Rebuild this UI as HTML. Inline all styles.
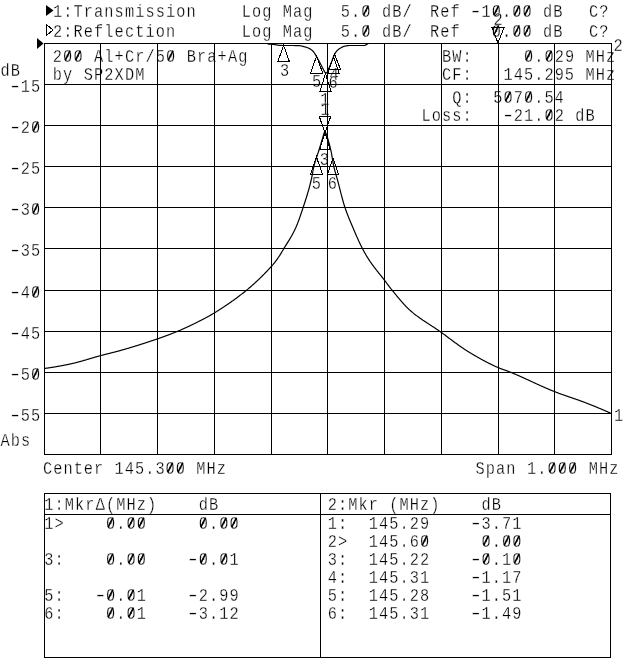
<!DOCTYPE html>
<html><head><meta charset="utf-8"><title>8753 screen</title>
<style>
html,body{margin:0;padding:0;background:#fff;width:640px;height:659px;overflow:hidden}
svg{display:block}
text{font-family:"Liberation Mono","DejaVu Sans Mono",monospace;font-size:18.0px;fill:#000;stroke:#fff;stroke-width:0.3px}
line{stroke:#000;stroke-width:1;shape-rendering:crispEdges}
.f{fill:#000;stroke:none}
.o{fill:none;stroke:#000;stroke-width:1;shape-rendering:crispEdges}
.tr{fill:none;stroke:#000;stroke-width:1.2;stroke-linejoin:round}
.tr2{fill:none;stroke:#000;stroke-width:1.2;stroke-linejoin:round}
.sl{stroke:#000;stroke-width:1.6;shape-rendering:auto}
</style></head><body>
<svg width="640" height="659" viewBox="0 0 640 659">
<rect width="640" height="659" fill="#fff"/>
<text transform="translate(53.01,17) scale(0.85,1)" letter-spacing="1.29">1:Transmission</text>
<text transform="translate(241.71,17) scale(0.85,1)" letter-spacing="1.29">Log</text>
<text transform="translate(282.83,17) scale(0.85,1)" letter-spacing="1.29">Mag</text>
<text transform="translate(340.81,17) scale(0.85,1)" letter-spacing="1.29">5.0</text>
<text transform="translate(381.93,17) scale(0.85,1)" letter-spacing="1.29">dB/</text>
<text transform="translate(588.91,17) scale(0.85,1)" letter-spacing="1.29">C?</text>
<text transform="translate(53.01,36.8) scale(0.85,1)" letter-spacing="1.29">2:Reflection</text>
<text transform="translate(241.71,36.8) scale(0.85,1)" letter-spacing="1.29">Log</text>
<text transform="translate(282.83,36.8) scale(0.85,1)" letter-spacing="1.29">Mag</text>
<text transform="translate(340.81,36.8) scale(0.85,1)" letter-spacing="1.29">5.0</text>
<text transform="translate(381.93,36.8) scale(0.85,1)" letter-spacing="1.29">dB/</text>
<text transform="translate(588.91,36.8) scale(0.85,1)" letter-spacing="1.29">C?</text>
<text transform="translate(430.01,17) scale(0.85,1)" letter-spacing="1.29">Ref</text>
<text transform="translate(475.72,17) scale(1.317,1)" text-anchor="middle">-</text>
<text transform="translate(481.41,17) scale(0.85,1)" letter-spacing="1.29">10.00</text>
<text transform="translate(543.09,17) scale(0.85,1)" letter-spacing="1.29">dB</text>
<text transform="translate(430.01,36.8) scale(0.85,1)" letter-spacing="1.29">Ref</text>
<text transform="translate(491.69,36.8) scale(0.85,1)" letter-spacing="1.29">0.00</text>
<text transform="translate(543.09,36.8) scale(0.85,1)" letter-spacing="1.29">dB</text>
<text transform="translate(52.81,62) scale(0.85,1)" letter-spacing="1.32">200</text>
<text transform="translate(94.01,62) scale(0.85,1)" letter-spacing="1.32">Al+Cr/50</text>
<text transform="translate(186.71,62) scale(0.85,1)" letter-spacing="1.32">Bra+Ag</text>
<text transform="translate(52.81,80) scale(0.85,1)" letter-spacing="1.32">by</text>
<text transform="translate(83.71,80) scale(0.85,1)" letter-spacing="1.32">SP2XDM</text>
<text transform="translate(441.91,62) scale(0.85,1)" letter-spacing="1.26">BW:</text>
<text transform="translate(523.91,62) scale(0.85,1)" letter-spacing="1.26">0.029</text>
<text transform="translate(585.41,62) scale(0.85,1)" letter-spacing="1.26">MHz</text>
<text transform="translate(441.91,80) scale(0.85,1)" letter-spacing="1.26">CF:</text>
<text transform="translate(503.41,80) scale(0.85,1)" letter-spacing="1.26">145.295</text>
<text transform="translate(585.41,80) scale(0.85,1)" letter-spacing="1.26">MHz</text>
<text transform="translate(452.16,103) scale(0.85,1)" letter-spacing="1.26">Q:</text>
<text transform="translate(493.16,103) scale(0.85,1)" letter-spacing="1.26">5070.54</text>
<text transform="translate(421.41,121) scale(0.85,1)" letter-spacing="1.26">Loss:</text>
<text transform="translate(508.00,121) scale(1.317,1)" text-anchor="middle">-</text>
<text transform="translate(513.66,121) scale(0.85,1)" letter-spacing="1.26">21.02</text>
<text transform="translate(575.16,121) scale(0.85,1)" letter-spacing="1.26">dB</text>
<text transform="translate(15.10,92) scale(1.317,1)" text-anchor="middle">-</text>
<text transform="translate(20.76,92) scale(0.85,1)" letter-spacing="1.26">15</text>
<text transform="translate(15.10,133) scale(1.317,1)" text-anchor="middle">-</text>
<text transform="translate(20.76,133) scale(0.85,1)" letter-spacing="1.26">20</text>
<text transform="translate(15.10,174) scale(1.317,1)" text-anchor="middle">-</text>
<text transform="translate(20.76,174) scale(0.85,1)" letter-spacing="1.26">25</text>
<text transform="translate(15.10,215) scale(1.317,1)" text-anchor="middle">-</text>
<text transform="translate(20.76,215) scale(0.85,1)" letter-spacing="1.26">30</text>
<text transform="translate(15.10,256) scale(1.317,1)" text-anchor="middle">-</text>
<text transform="translate(20.76,256) scale(0.85,1)" letter-spacing="1.26">35</text>
<text transform="translate(15.10,298) scale(1.317,1)" text-anchor="middle">-</text>
<text transform="translate(20.76,298) scale(0.85,1)" letter-spacing="1.26">40</text>
<text transform="translate(15.10,339) scale(1.317,1)" text-anchor="middle">-</text>
<text transform="translate(20.76,339) scale(0.85,1)" letter-spacing="1.26">45</text>
<text transform="translate(15.10,380) scale(1.317,1)" text-anchor="middle">-</text>
<text transform="translate(20.76,380) scale(0.85,1)" letter-spacing="1.26">50</text>
<text transform="translate(15.10,421) scale(1.317,1)" text-anchor="middle">-</text>
<text transform="translate(20.76,421) scale(0.85,1)" letter-spacing="1.26">55</text>
<text transform="translate(0.41,76) scale(0.85,1)" letter-spacing="1.26">dB</text>
<text transform="translate(0.41,446) scale(0.85,1)" letter-spacing="1.26">Abs</text>
<text transform="translate(43.01,474) scale(0.85,1)" letter-spacing="1.22">Center</text>
<text transform="translate(114.55,474) scale(0.85,1)" letter-spacing="1.22">145.300</text>
<text transform="translate(196.31,474) scale(0.85,1)" letter-spacing="1.22">MHz</text>
<text transform="translate(475.41,474) scale(0.85,1)" letter-spacing="1.32">Span</text>
<text transform="translate(526.91,474) scale(0.85,1)" letter-spacing="1.32">1.000</text>
<text transform="translate(588.71,474) scale(0.85,1)" letter-spacing="1.32">MHz</text>
<text transform="translate(44.16,510) scale(0.85,1)" letter-spacing="1.32">1:MkrΔ(MHz)</text>
<text transform="translate(198.66,510) scale(0.85,1)" letter-spacing="1.32">dB</text>
<text transform="translate(44.16,529) scale(0.85,1)" letter-spacing="1.32">1&gt;</text>
<text transform="translate(105.96,529) scale(0.85,1)" letter-spacing="1.32">0.00</text>
<text transform="translate(198.66,529) scale(0.85,1)" letter-spacing="1.32">0.00</text>
<text transform="translate(44.16,565) scale(0.85,1)" letter-spacing="1.32">3:</text>
<text transform="translate(105.96,565) scale(0.85,1)" letter-spacing="1.32">0.00</text>
<text transform="translate(192.95,565) scale(1.317,1)" text-anchor="middle">-</text>
<text transform="translate(198.66,565) scale(0.85,1)" letter-spacing="1.32">0.01</text>
<text transform="translate(44.16,601) scale(0.85,1)" letter-spacing="1.32">5:</text>
<text transform="translate(100.25,601) scale(1.317,1)" text-anchor="middle">-</text>
<text transform="translate(105.96,601) scale(0.85,1)" letter-spacing="1.32">0.01</text>
<text transform="translate(192.95,601) scale(1.317,1)" text-anchor="middle">-</text>
<text transform="translate(198.66,601) scale(0.85,1)" letter-spacing="1.32">2.99</text>
<text transform="translate(44.16,619) scale(0.85,1)" letter-spacing="1.32">6:</text>
<text transform="translate(105.96,619) scale(0.85,1)" letter-spacing="1.32">0.01</text>
<text transform="translate(192.95,619) scale(1.317,1)" text-anchor="middle">-</text>
<text transform="translate(198.66,619) scale(0.85,1)" letter-spacing="1.32">3.12</text>
<text transform="translate(327.81,510) scale(0.85,1)" letter-spacing="1.26">2:Mkr</text>
<text transform="translate(389.31,510) scale(0.85,1)" letter-spacing="1.26">(MHz)</text>
<text transform="translate(481.56,510) scale(0.85,1)" letter-spacing="1.26">dB</text>
<text transform="translate(327.81,529) scale(0.85,1)" letter-spacing="1.26">1:</text>
<text transform="translate(368.81,529) scale(0.85,1)" letter-spacing="1.26">145.29</text>
<text transform="translate(475.90,529) scale(1.317,1)" text-anchor="middle">-</text>
<text transform="translate(481.56,529) scale(0.85,1)" letter-spacing="1.26">3.71</text>
<text transform="translate(327.81,547) scale(0.85,1)" letter-spacing="1.26">2&gt;</text>
<text transform="translate(368.81,547) scale(0.85,1)" letter-spacing="1.26">145.60</text>
<text transform="translate(481.56,547) scale(0.85,1)" letter-spacing="1.26">0.00</text>
<text transform="translate(327.81,565) scale(0.85,1)" letter-spacing="1.26">3:</text>
<text transform="translate(368.81,565) scale(0.85,1)" letter-spacing="1.26">145.22</text>
<text transform="translate(475.90,565) scale(1.317,1)" text-anchor="middle">-</text>
<text transform="translate(481.56,565) scale(0.85,1)" letter-spacing="1.26">0.10</text>
<text transform="translate(327.81,583) scale(0.85,1)" letter-spacing="1.26">4:</text>
<text transform="translate(368.81,583) scale(0.85,1)" letter-spacing="1.26">145.31</text>
<text transform="translate(475.90,583) scale(1.317,1)" text-anchor="middle">-</text>
<text transform="translate(481.56,583) scale(0.85,1)" letter-spacing="1.26">1.17</text>
<text transform="translate(327.81,601) scale(0.85,1)" letter-spacing="1.26">5:</text>
<text transform="translate(368.81,601) scale(0.85,1)" letter-spacing="1.26">145.28</text>
<text transform="translate(475.90,601) scale(1.317,1)" text-anchor="middle">-</text>
<text transform="translate(481.56,601) scale(0.85,1)" letter-spacing="1.26">1.51</text>
<text transform="translate(327.81,619) scale(0.85,1)" letter-spacing="1.26">6:</text>
<text transform="translate(368.81,619) scale(0.85,1)" letter-spacing="1.26">145.31</text>
<text transform="translate(475.90,619) scale(1.317,1)" text-anchor="middle">-</text>
<text transform="translate(481.56,619) scale(0.85,1)" letter-spacing="1.26">1.49</text>
<text transform="translate(279.91,76) scale(0.85,1)" letter-spacing="0.96">3</text>
<text transform="translate(312.01,87) scale(0.85,1)" letter-spacing="0.96">5</text>
<text transform="translate(329.41,80) scale(0.85,1)" letter-spacing="0.96">4</text>
<text transform="translate(328.41,88) scale(0.85,1)" letter-spacing="0.96">6</text>
<text transform="translate(320.21,105) scale(0.85,1)" letter-spacing="0.96">1</text>
<text transform="translate(493.41,25) scale(0.85,1)" letter-spacing="0.96">2</text>
<text transform="translate(320.41,115) scale(0.85,1)" letter-spacing="0.96">1</text>
<text transform="translate(319.71,164.5) scale(0.85,1)" letter-spacing="0.96">3</text>
<text transform="translate(311.71,189) scale(0.85,1)" letter-spacing="0.96">5</text>
<text transform="translate(327.71,189) scale(0.85,1)" letter-spacing="0.96">6</text>
<text transform="translate(613.91,420.5) scale(0.85,1)" letter-spacing="0.96">1</text>
<text transform="translate(613.41,51) scale(0.85,1)" letter-spacing="0.96">2</text>
<line x1="44.5" y1="43" x2="44.5" y2="455"/>
<line x1="100.5" y1="43" x2="100.5" y2="455"/>
<line x1="157.5" y1="43" x2="157.5" y2="455"/>
<line x1="214.5" y1="43" x2="214.5" y2="455"/>
<line x1="271.5" y1="43" x2="271.5" y2="455"/>
<line x1="327.5" y1="43" x2="327.5" y2="455"/>
<line x1="384.5" y1="43" x2="384.5" y2="455"/>
<line x1="441.5" y1="43" x2="441.5" y2="455"/>
<line x1="498.5" y1="43" x2="498.5" y2="455"/>
<line x1="554.5" y1="43" x2="554.5" y2="455"/>
<line x1="611.5" y1="43" x2="611.5" y2="455"/>
<line x1="44" y1="43.5" x2="612" y2="43.5"/>
<line x1="44" y1="84.5" x2="612" y2="84.5"/>
<line x1="44" y1="125.5" x2="612" y2="125.5"/>
<line x1="44" y1="166.5" x2="612" y2="166.5"/>
<line x1="44" y1="207.5" x2="612" y2="207.5"/>
<line x1="44" y1="248.5" x2="612" y2="248.5"/>
<line x1="44" y1="290.5" x2="612" y2="290.5"/>
<line x1="44" y1="331.5" x2="612" y2="331.5"/>
<line x1="44" y1="372.5" x2="612" y2="372.5"/>
<line x1="44" y1="413.5" x2="612" y2="413.5"/>
<line x1="44" y1="454.5" x2="612" y2="454.5"/>
<line x1="44" y1="493.5" x2="611" y2="493.5"/>
<line x1="44" y1="514.5" x2="611" y2="514.5"/>
<line x1="44" y1="657.5" x2="611" y2="657.5"/>
<line x1="44.5" y1="493" x2="44.5" y2="658"/>
<line x1="610.5" y1="493" x2="610.5" y2="658"/>
<line x1="320.5" y1="493" x2="320.5" y2="658"/>
<line class="sl" x1="363.56" y1="15.20" x2="368.36" y2="5.66"/>
<line class="sl" x1="363.56" y1="35.00" x2="368.36" y2="25.46"/>
<line class="sl" x1="493.88" y1="15.20" x2="498.68" y2="5.66"/>
<line class="sl" x1="514.44" y1="15.20" x2="519.24" y2="5.66"/>
<line class="sl" x1="524.72" y1="15.20" x2="529.52" y2="5.66"/>
<line class="sl" x1="493.88" y1="35.00" x2="498.68" y2="25.46"/>
<line class="sl" x1="514.44" y1="35.00" x2="519.24" y2="25.46"/>
<line class="sl" x1="524.72" y1="35.00" x2="529.52" y2="25.46"/>
<polygon class="f" points="46,5 46,16 53.5,10.5"/>
<polygon class="o" points="46.5,24.5 46.5,35.5 53,30"/>
<polygon class="f" points="37,38 37,49 43.5,43.5"/>
<line class="sl" x1="65.30" y1="60.20" x2="70.10" y2="50.66"/>
<line class="sl" x1="75.60" y1="60.20" x2="80.40" y2="50.66"/>
<line class="sl" x1="168.30" y1="60.20" x2="173.10" y2="50.66"/>
<line class="sl" x1="526.10" y1="60.20" x2="530.90" y2="50.66"/>
<line class="sl" x1="546.60" y1="60.20" x2="551.40" y2="50.66"/>
<line class="sl" x1="505.60" y1="101.20" x2="510.40" y2="91.66"/>
<line class="sl" x1="526.10" y1="101.20" x2="530.90" y2="91.66"/>
<line class="sl" x1="546.60" y1="119.20" x2="551.40" y2="109.66"/>
<line class="sl" x1="33.20" y1="131.20" x2="38.00" y2="121.66"/>
<line class="sl" x1="33.20" y1="213.20" x2="38.00" y2="203.66"/>
<line class="sl" x1="33.20" y1="296.20" x2="38.00" y2="286.66"/>
<line class="sl" x1="33.20" y1="378.20" x2="38.00" y2="368.66"/>
<line class="sl" x1="167.84" y1="472.20" x2="172.64" y2="462.66"/>
<line class="sl" x1="178.06" y1="472.20" x2="182.86" y2="462.66"/>
<line class="sl" x1="549.70" y1="472.20" x2="554.50" y2="462.66"/>
<line class="sl" x1="560.00" y1="472.20" x2="564.80" y2="462.66"/>
<line class="sl" x1="570.30" y1="472.20" x2="575.10" y2="462.66"/>
<line class="sl" x1="108.15" y1="527.20" x2="112.95" y2="517.66"/>
<line class="sl" x1="128.75" y1="527.20" x2="133.55" y2="517.66"/>
<line class="sl" x1="139.05" y1="527.20" x2="143.85" y2="517.66"/>
<line class="sl" x1="200.85" y1="527.20" x2="205.65" y2="517.66"/>
<line class="sl" x1="221.45" y1="527.20" x2="226.25" y2="517.66"/>
<line class="sl" x1="231.75" y1="527.20" x2="236.55" y2="517.66"/>
<line class="sl" x1="108.15" y1="563.20" x2="112.95" y2="553.66"/>
<line class="sl" x1="128.75" y1="563.20" x2="133.55" y2="553.66"/>
<line class="sl" x1="139.05" y1="563.20" x2="143.85" y2="553.66"/>
<line class="sl" x1="200.85" y1="563.20" x2="205.65" y2="553.66"/>
<line class="sl" x1="221.45" y1="563.20" x2="226.25" y2="553.66"/>
<line class="sl" x1="108.15" y1="599.20" x2="112.95" y2="589.66"/>
<line class="sl" x1="128.75" y1="599.20" x2="133.55" y2="589.66"/>
<line class="sl" x1="108.15" y1="617.20" x2="112.95" y2="607.66"/>
<line class="sl" x1="128.75" y1="617.20" x2="133.55" y2="607.66"/>
<line class="sl" x1="422.25" y1="545.20" x2="427.05" y2="535.66"/>
<line class="sl" x1="483.75" y1="545.20" x2="488.55" y2="535.66"/>
<line class="sl" x1="504.25" y1="545.20" x2="509.05" y2="535.66"/>
<line class="sl" x1="514.50" y1="545.20" x2="519.30" y2="535.66"/>
<line class="sl" x1="483.75" y1="563.20" x2="488.55" y2="553.66"/>
<line class="sl" x1="514.50" y1="563.20" x2="519.30" y2="553.66"/>
<path class="tr" d="M44.00,368.50 L44.31,368.46 L44.62,368.42 L44.94,368.38 L45.25,368.34 L45.56,368.30 L45.87,368.26 L46.19,368.22 L46.50,368.18 L46.81,368.13 L47.12,368.09 L47.43,368.05 L47.75,368.00 L48.06,367.96 L48.37,367.91 L48.68,367.87 L49.00,367.82 L49.31,367.78 L49.62,367.73 L49.93,367.69 L50.24,367.64 L50.56,367.59 L50.87,367.54 L51.18,367.50 L51.49,367.45 L51.81,367.40 L52.12,367.35 L52.43,367.30 L52.74,367.25 L53.05,367.20 L53.37,367.15 L53.68,367.10 L53.99,367.05 L54.30,367.00 L54.62,366.95 L54.93,366.89 L55.24,366.84 L55.55,366.79 L55.86,366.73 L56.18,366.68 L56.49,366.63 L56.80,366.57 L57.11,366.52 L57.43,366.46 L57.74,366.41 L58.05,366.35 L58.36,366.30 L58.68,366.24 L58.99,366.18 L59.30,366.13 L59.61,366.07 L59.92,366.01 L60.24,365.96 L60.55,365.90 L60.86,365.84 L61.17,365.78 L61.49,365.72 L61.80,365.66 L62.11,365.60 L62.42,365.54 L62.73,365.48 L63.05,365.42 L63.36,365.36 L63.67,365.30 L63.98,365.24 L64.30,365.18 L64.61,365.12 L64.92,365.06 L65.23,364.99 L65.54,364.93 L65.86,364.87 L66.17,364.81 L66.48,364.74 L66.79,364.68 L67.11,364.62 L67.42,364.55 L67.73,364.49 L68.04,364.42 L68.35,364.36 L68.67,364.29 L68.98,364.23 L69.29,364.16 L69.60,364.10 L69.92,364.03 L70.23,363.97 L70.54,363.90 L70.85,363.83 L71.16,363.77 L71.48,363.70 L71.79,363.63 L72.10,363.56 L72.41,363.50 L72.73,363.42 L73.04,363.35 L73.35,363.28 L73.66,363.21 L73.97,363.13 L74.29,363.06 L74.60,362.98 L74.91,362.91 L75.22,362.83 L75.54,362.75 L75.85,362.68 L76.16,362.60 L76.47,362.52 L76.78,362.44 L77.10,362.36 L77.41,362.27 L77.72,362.19 L78.03,362.11 L78.35,362.03 L78.66,361.94 L78.97,361.86 L79.28,361.77 L79.59,361.69 L79.91,361.60 L80.22,361.52 L80.53,361.43 L80.84,361.34 L81.16,361.25 L81.47,361.17 L81.78,361.08 L82.09,360.99 L82.41,360.90 L82.72,360.81 L83.03,360.72 L83.34,360.63 L83.65,360.54 L83.97,360.45 L84.28,360.36 L84.59,360.26 L84.90,360.17 L85.22,360.08 L85.53,359.99 L85.84,359.90 L86.15,359.80 L86.46,359.71 L86.78,359.62 L87.09,359.52 L87.40,359.43 L87.71,359.34 L88.03,359.24 L88.34,359.15 L88.65,359.06 L88.96,358.96 L89.27,358.87 L89.59,358.78 L89.90,358.68 L90.21,358.59 L90.52,358.50 L90.84,358.40 L91.15,358.31 L91.46,358.22 L91.77,358.12 L92.08,358.03 L92.40,357.94 L92.71,357.84 L93.02,357.75 L93.33,357.66 L93.65,357.57 L93.96,357.48 L94.27,357.38 L94.58,357.29 L94.89,357.20 L95.21,357.11 L95.52,357.02 L95.83,356.93 L96.14,356.84 L96.46,356.75 L96.77,356.66 L97.08,356.57 L97.39,356.48 L97.70,356.39 L98.02,356.31 L98.33,356.22 L98.64,356.13 L98.95,356.05 L99.27,355.96 L99.58,355.88 L99.89,355.79 L100.20,355.71 L100.51,355.62 L100.83,355.54 L101.14,355.46 L101.45,355.37 L101.76,355.29 L102.08,355.21 L102.39,355.13 L102.70,355.05 L103.01,354.97 L103.32,354.89 L103.64,354.81 L103.95,354.73 L104.26,354.65 L104.57,354.57 L104.89,354.49 L105.20,354.41 L105.51,354.33 L105.82,354.25 L106.13,354.17 L106.45,354.10 L106.76,354.02 L107.07,353.94 L107.38,353.86 L107.70,353.78 L108.01,353.70 L108.32,353.63 L108.63,353.55 L108.95,353.47 L109.26,353.39 L109.57,353.32 L109.88,353.24 L110.19,353.16 L110.51,353.08 L110.82,353.00 L111.13,352.92 L111.44,352.85 L111.76,352.77 L112.07,352.69 L112.38,352.61 L112.69,352.53 L113.00,352.45 L113.32,352.37 L113.63,352.29 L113.94,352.21 L114.25,352.13 L114.57,352.05 L114.88,351.97 L115.19,351.89 L115.50,351.81 L115.81,351.73 L116.13,351.65 L116.44,351.57 L116.75,351.48 L117.06,351.40 L117.38,351.32 L117.69,351.23 L118.00,351.15 L118.31,351.07 L118.62,350.98 L118.94,350.89 L119.25,350.81 L119.56,350.72 L119.87,350.64 L120.19,350.55 L120.50,350.46 L120.81,350.37 L121.12,350.28 L121.43,350.20 L121.75,350.11 L122.06,350.02 L122.37,349.93 L122.68,349.84 L123.00,349.75 L123.31,349.66 L123.62,349.57 L123.93,349.48 L124.24,349.39 L124.56,349.30 L124.87,349.21 L125.18,349.12 L125.49,349.03 L125.81,348.94 L126.12,348.85 L126.43,348.76 L126.74,348.67 L127.05,348.58 L127.37,348.48 L127.68,348.39 L127.99,348.30 L128.30,348.21 L128.62,348.12 L128.93,348.02 L129.24,347.93 L129.55,347.84 L129.86,347.74 L130.18,347.65 L130.49,347.56 L130.80,347.46 L131.11,347.37 L131.43,347.27 L131.74,347.18 L132.05,347.09 L132.36,346.99 L132.67,346.90 L132.99,346.80 L133.30,346.71 L133.61,346.61 L133.92,346.52 L134.24,346.42 L134.55,346.32 L134.86,346.23 L135.17,346.13 L135.49,346.04 L135.80,345.94 L136.11,345.84 L136.42,345.75 L136.73,345.65 L137.05,345.55 L137.36,345.45 L137.67,345.36 L137.98,345.26 L138.30,345.16 L138.61,345.06 L138.92,344.96 L139.23,344.87 L139.54,344.77 L139.86,344.67 L140.17,344.57 L140.48,344.47 L140.79,344.37 L141.11,344.27 L141.42,344.17 L141.73,344.07 L142.04,343.97 L142.35,343.87 L142.67,343.77 L142.98,343.67 L143.29,343.57 L143.60,343.47 L143.92,343.37 L144.23,343.27 L144.54,343.17 L144.85,343.07 L145.16,342.97 L145.48,342.86 L145.79,342.76 L146.10,342.66 L146.41,342.56 L146.73,342.46 L147.04,342.35 L147.35,342.25 L147.66,342.15 L147.97,342.05 L148.29,341.94 L148.60,341.84 L148.91,341.74 L149.22,341.63 L149.54,341.53 L149.85,341.43 L150.16,341.32 L150.47,341.22 L150.78,341.11 L151.10,341.01 L151.41,340.90 L151.72,340.80 L152.03,340.69 L152.35,340.59 L152.66,340.48 L152.97,340.38 L153.28,340.27 L153.59,340.17 L153.91,340.06 L154.22,339.96 L154.53,339.85 L154.84,339.74 L155.16,339.64 L155.47,339.53 L155.78,339.43 L156.09,339.32 L156.40,339.21 L156.72,339.10 L157.03,339.00 L157.34,338.89 L157.65,338.78 L157.97,338.68 L158.28,338.57 L158.59,338.46 L158.90,338.35 L159.22,338.24 L159.53,338.13 L159.84,338.03 L160.15,337.92 L160.46,337.81 L160.78,337.70 L161.09,337.59 L161.40,337.48 L161.71,337.37 L162.03,337.26 L162.34,337.15 L162.65,337.04 L162.96,336.93 L163.27,336.81 L163.59,336.70 L163.90,336.59 L164.21,336.48 L164.52,336.37 L164.84,336.25 L165.15,336.14 L165.46,336.03 L165.77,335.91 L166.08,335.80 L166.40,335.68 L166.71,335.57 L167.02,335.45 L167.33,335.34 L167.65,335.22 L167.96,335.10 L168.27,334.99 L168.58,334.87 L168.89,334.75 L169.21,334.63 L169.52,334.52 L169.83,334.40 L170.14,334.28 L170.46,334.16 L170.77,334.04 L171.08,333.92 L171.39,333.80 L171.70,333.68 L172.02,333.55 L172.33,333.43 L172.64,333.31 L172.95,333.18 L173.27,333.06 L173.58,332.94 L173.89,332.81 L174.20,332.69 L174.51,332.56 L174.83,332.44 L175.14,332.31 L175.45,332.18 L175.76,332.05 L176.08,331.93 L176.39,331.80 L176.70,331.67 L177.01,331.54 L177.32,331.41 L177.64,331.28 L177.95,331.14 L178.26,331.01 L178.57,330.88 L178.89,330.75 L179.20,330.61 L179.51,330.48 L179.82,330.35 L180.13,330.21 L180.45,330.08 L180.76,329.94 L181.07,329.81 L181.38,329.67 L181.70,329.53 L182.01,329.40 L182.32,329.26 L182.63,329.12 L182.94,328.98 L183.26,328.84 L183.57,328.70 L183.88,328.56 L184.19,328.42 L184.51,328.28 L184.82,328.14 L185.13,328.00 L185.44,327.86 L185.76,327.71 L186.07,327.57 L186.38,327.43 L186.69,327.29 L187.00,327.14 L187.32,327.00 L187.63,326.85 L187.94,326.71 L188.25,326.56 L188.57,326.41 L188.88,326.27 L189.19,326.12 L189.50,325.97 L189.81,325.83 L190.13,325.68 L190.44,325.53 L190.75,325.38 L191.06,325.23 L191.38,325.08 L191.69,324.93 L192.00,324.78 L192.31,324.63 L192.62,324.48 L192.94,324.33 L193.25,324.18 L193.56,324.03 L193.87,323.87 L194.19,323.72 L194.50,323.57 L194.81,323.41 L195.12,323.26 L195.43,323.11 L195.75,322.95 L196.06,322.80 L196.37,322.64 L196.68,322.49 L197.00,322.33 L197.31,322.17 L197.62,322.02 L197.93,321.86 L198.24,321.70 L198.56,321.55 L198.87,321.39 L199.18,321.23 L199.49,321.07 L199.81,320.91 L200.12,320.75 L200.43,320.59 L200.74,320.43 L201.05,320.27 L201.37,320.11 L201.68,319.95 L201.99,319.79 L202.30,319.63 L202.62,319.47 L202.93,319.31 L203.24,319.15 L203.55,318.98 L203.86,318.82 L204.18,318.66 L204.49,318.49 L204.80,318.33 L205.11,318.16 L205.43,318.00 L205.74,317.83 L206.05,317.67 L206.36,317.50 L206.67,317.33 L206.99,317.16 L207.30,316.99 L207.61,316.82 L207.92,316.65 L208.24,316.47 L208.55,316.30 L208.86,316.13 L209.17,315.95 L209.48,315.78 L209.80,315.60 L210.11,315.42 L210.42,315.24 L210.73,315.06 L211.05,314.88 L211.36,314.70 L211.67,314.52 L211.98,314.34 L212.30,314.15 L212.61,313.97 L212.92,313.78 L213.23,313.59 L213.54,313.41 L213.86,313.22 L214.17,313.03 L214.48,312.83 L214.79,312.64 L215.11,312.45 L215.42,312.26 L215.73,312.06 L216.04,311.87 L216.35,311.67 L216.67,311.48 L216.98,311.28 L217.29,311.09 L217.60,310.89 L217.92,310.70 L218.23,310.50 L218.54,310.30 L218.85,310.10 L219.16,309.90 L219.48,309.71 L219.79,309.51 L220.10,309.31 L220.41,309.11 L220.73,308.91 L221.04,308.70 L221.35,308.50 L221.66,308.30 L221.97,308.10 L222.29,307.89 L222.60,307.69 L222.91,307.49 L223.22,307.28 L223.54,307.08 L223.85,306.87 L224.16,306.66 L224.47,306.46 L224.78,306.25 L225.10,306.04 L225.41,305.83 L225.72,305.62 L226.03,305.42 L226.35,305.20 L226.66,304.99 L226.97,304.78 L227.28,304.57 L227.59,304.36 L227.91,304.15 L228.22,303.93 L228.53,303.72 L228.84,303.50 L229.16,303.29 L229.47,303.07 L229.78,302.86 L230.09,302.64 L230.40,302.42 L230.72,302.20 L231.03,301.98 L231.34,301.76 L231.65,301.54 L231.97,301.32 L232.28,301.10 L232.59,300.88 L232.90,300.66 L233.21,300.43 L233.53,300.21 L233.84,299.98 L234.15,299.76 L234.46,299.53 L234.78,299.31 L235.09,299.08 L235.40,298.85 L235.71,298.62 L236.03,298.39 L236.34,298.16 L236.65,297.93 L236.96,297.70 L237.27,297.47 L237.59,297.23 L237.90,297.00 L238.21,296.77 L238.52,296.53 L238.84,296.30 L239.15,296.06 L239.46,295.82 L239.77,295.58 L240.08,295.34 L240.40,295.11 L240.71,294.86 L241.02,294.62 L241.33,294.38 L241.65,294.14 L241.96,293.90 L242.27,293.65 L242.58,293.41 L242.89,293.16 L243.21,292.91 L243.52,292.67 L243.83,292.42 L244.14,292.17 L244.46,291.92 L244.77,291.67 L245.08,291.42 L245.39,291.17 L245.70,290.91 L246.02,290.66 L246.33,290.40 L246.64,290.15 L246.95,289.89 L247.27,289.63 L247.58,289.38 L247.89,289.12 L248.20,288.85 L248.51,288.59 L248.83,288.33 L249.14,288.07 L249.45,287.80 L249.76,287.53 L250.08,287.27 L250.39,287.00 L250.70,286.73 L251.01,286.46 L251.32,286.19 L251.64,285.91 L251.95,285.64 L252.26,285.36 L252.57,285.09 L252.89,284.81 L253.20,284.53 L253.51,284.25 L253.82,283.97 L254.13,283.69 L254.45,283.41 L254.76,283.12 L255.07,282.84 L255.38,282.55 L255.70,282.26 L256.01,281.97 L256.32,281.68 L256.63,281.39 L256.94,281.10 L257.26,280.81 L257.57,280.51 L257.88,280.22 L258.19,279.92 L258.51,279.63 L258.82,279.33 L259.13,279.03 L259.44,278.73 L259.75,278.42 L260.07,278.12 L260.38,277.82 L260.69,277.51 L261.00,277.20 L261.32,276.90 L261.63,276.59 L261.94,276.28 L262.25,275.97 L262.57,275.65 L262.88,275.34 L263.19,275.03 L263.50,274.71 L263.81,274.39 L264.13,274.08 L264.44,273.76 L264.75,273.44 L265.06,273.12 L265.38,272.79 L265.69,272.47 L266.00,272.14 L266.31,271.82 L266.62,271.49 L266.94,271.16 L267.25,270.83 L267.56,270.50 L267.87,270.17 L268.19,269.84 L268.50,269.50 L268.81,269.17 L269.12,268.83 L269.43,268.50 L269.75,268.16 L270.06,267.82 L270.37,267.48 L270.68,267.13 L271.00,266.79 L271.31,266.45 L271.62,266.10 L271.93,265.75 L272.24,265.40 L272.56,265.05 L272.87,264.69 L273.18,264.32 L273.49,263.96 L273.81,263.58 L274.12,263.21 L274.43,262.82 L274.74,262.43 L275.05,262.04 L275.37,261.64 L275.68,261.23 L275.99,260.82 L276.30,260.40 L276.62,259.98 L276.93,259.55 L277.24,259.11 L277.55,258.66 L277.86,258.20 L278.18,257.73 L278.49,257.26 L278.80,256.79 L279.11,256.30 L279.43,255.82 L279.74,255.32 L280.05,254.82 L280.36,254.32 L280.67,253.82 L280.99,253.31 L281.30,252.80 L281.61,252.28 L281.92,251.77 L282.24,251.25 L282.55,250.74 L282.86,250.22 L283.17,249.70 L283.48,249.19 L283.80,248.67 L284.11,248.16 L284.42,247.65 L284.73,247.14 L285.05,246.63 L285.36,246.13 L285.67,245.63 L285.98,245.13 L286.29,244.64 L286.61,244.14 L286.92,243.64 L287.23,243.14 L287.54,242.64 L287.86,242.14 L288.17,241.64 L288.48,241.14 L288.79,240.63 L289.11,240.12 L289.42,239.61 L289.73,239.09 L290.04,238.57 L290.35,238.05 L290.67,237.51 L290.98,236.98 L291.29,236.43 L291.60,235.88 L291.92,235.33 L292.23,234.76 L292.54,234.19 L292.85,233.61 L293.16,233.02 L293.48,232.42 L293.79,231.81 L294.10,231.19 L294.41,230.56 L294.73,229.92 L295.04,229.27 L295.35,228.61 L295.66,227.93 L295.97,227.23 L296.29,226.51 L296.60,225.78 L296.91,225.02 L297.22,224.25 L297.54,223.47 L297.85,222.66 L298.16,221.85 L298.47,221.02 L298.78,220.18 L299.10,219.32 L299.41,218.45 L299.72,217.58 L300.03,216.69 L300.35,215.79 L300.66,214.89 L300.97,213.97 L301.28,213.06 L301.59,212.13 L301.91,211.20 L302.22,210.26 L302.53,209.32 L302.84,208.38 L303.16,207.44 L303.47,206.49 L303.78,205.54 L304.09,204.60 L304.40,203.64 L304.72,202.69 L305.03,201.73 L305.34,200.76 L305.65,199.78 L305.97,198.80 L306.28,197.81 L306.59,196.80 L306.90,195.79 L307.21,194.76 L307.53,193.71 L307.84,192.66 L308.15,191.58 L308.46,190.49 L308.78,189.38 L309.09,188.25 L309.40,187.10 L309.71,185.92 L310.02,184.73 L310.34,183.51 L310.65,182.26 L310.96,180.99 L311.27,179.69 L311.59,178.26 L311.90,176.70 L312.21,175.05 L312.52,173.35 L312.84,171.65 L313.15,169.99 L313.46,168.41 L313.77,166.96 L314.08,165.67 L314.40,164.47 L314.71,163.33 L315.02,162.24 L315.33,161.19 L315.65,160.18 L315.96,159.20 L316.27,158.24 L316.58,157.31 L316.89,156.38 L317.21,155.46 L317.52,154.55 L317.83,153.62 L318.14,152.68 L318.46,151.73 L318.77,150.75 L319.08,149.74 L319.39,148.72 L319.70,147.70 L320.02,146.67 L320.33,145.64 L320.64,144.61 L320.95,143.58 L321.27,142.54 L321.58,141.51 L321.89,140.47 L322.20,139.43 L322.51,138.38 L322.83,137.33 L323.14,136.28 L323.45,135.23 L323.76,134.18 L324.08,133.12 L324.39,132.06 L324.70,131.00"/>
<path class="tr" d="M324.70,131.00 L325.02,131.51 L325.34,132.09 L325.66,132.75 L325.98,133.46 L326.29,134.24 L326.61,135.08 L326.93,135.97 L327.25,136.92 L327.57,137.91 L327.89,138.95 L328.21,140.04 L328.53,141.16 L328.85,142.32 L329.16,143.51 L329.48,144.73 L329.80,145.97 L330.12,147.24 L330.44,148.53 L330.76,149.83 L331.08,151.24 L331.40,152.87 L331.72,154.66 L332.03,156.56 L332.35,158.51 L332.67,160.46 L332.99,162.34 L333.31,164.10 L333.63,165.68 L333.95,167.08 L334.27,168.41 L334.59,169.67 L334.91,170.87 L335.22,172.04 L335.54,173.17 L335.86,174.27 L336.18,175.37 L336.50,176.46 L336.82,177.56 L337.14,178.69 L337.46,179.84 L337.78,181.02 L338.09,182.22 L338.41,183.44 L338.73,184.67 L339.05,185.91 L339.37,187.15 L339.69,188.40 L340.01,189.65 L340.33,190.90 L340.65,192.15 L340.96,193.39 L341.28,194.63 L341.60,195.85 L341.92,197.06 L342.24,198.26 L342.56,199.44 L342.88,200.60 L343.20,201.73 L343.52,202.84 L343.83,203.92 L344.15,204.97 L344.47,205.99 L344.79,206.97 L345.11,207.93 L345.43,208.86 L345.75,209.78 L346.07,210.68 L346.39,211.57 L346.70,212.44 L347.02,213.29 L347.34,214.14 L347.66,214.97 L347.98,215.78 L348.30,216.59 L348.62,217.39 L348.94,218.18 L349.26,218.96 L349.57,219.73 L349.89,220.50 L350.21,221.26 L350.53,222.02 L350.85,222.77 L351.17,223.52 L351.49,224.26 L351.81,225.01 L352.13,225.75 L352.45,226.50 L352.76,227.24 L353.08,227.99 L353.40,228.74 L353.72,229.49 L354.04,230.24 L354.36,230.99 L354.68,231.73 L355.00,232.48 L355.32,233.22 L355.63,233.96 L355.95,234.69 L356.27,235.43 L356.59,236.16 L356.91,236.88 L357.23,237.60 L357.55,238.32 L357.87,239.04 L358.19,239.74 L358.50,240.45 L358.82,241.14 L359.14,241.84 L359.46,242.52 L359.78,243.20 L360.10,243.87 L360.42,244.54 L360.74,245.20 L361.06,245.85 L361.37,246.49 L361.69,247.12 L362.01,247.75 L362.33,248.37 L362.65,248.98 L362.97,249.58 L363.29,250.18 L363.61,250.77 L363.93,251.35 L364.24,251.93 L364.56,252.51 L364.88,253.07 L365.20,253.63 L365.52,254.19 L365.84,254.74 L366.16,255.28 L366.48,255.82 L366.80,256.35 L367.12,256.87 L367.43,257.39 L367.75,257.90 L368.07,258.41 L368.39,258.91 L368.71,259.40 L369.03,259.89 L369.35,260.37 L369.67,260.85 L369.99,261.32 L370.30,261.79 L370.62,262.25 L370.94,262.71 L371.26,263.16 L371.58,263.61 L371.90,264.06 L372.22,264.50 L372.54,264.94 L372.86,265.37 L373.17,265.80 L373.49,266.23 L373.81,266.65 L374.13,267.08 L374.45,267.50 L374.77,267.91 L375.09,268.33 L375.41,268.74 L375.73,269.15 L376.04,269.56 L376.36,269.96 L376.68,270.37 L377.00,270.77 L377.32,271.18 L377.64,271.58 L377.96,271.98 L378.28,272.38 L378.60,272.78 L378.91,273.18 L379.23,273.57 L379.55,273.97 L379.87,274.37 L380.19,274.77 L380.51,275.17 L380.83,275.57 L381.15,275.97 L381.47,276.37 L381.78,276.77 L382.10,277.18 L382.42,277.58 L382.74,277.99 L383.06,278.39 L383.38,278.80 L383.70,279.22 L384.02,279.63 L384.34,280.05 L384.66,280.47 L384.97,280.89 L385.29,281.31 L385.61,281.73 L385.93,282.15 L386.25,282.58 L386.57,283.00 L386.89,283.43 L387.21,283.85 L387.53,284.28 L387.84,284.70 L388.16,285.12 L388.48,285.55 L388.80,285.97 L389.12,286.39 L389.44,286.80 L389.76,287.22 L390.08,287.63 L390.40,288.04 L390.71,288.45 L391.03,288.85 L391.35,289.25 L391.67,289.65 L391.99,290.04 L392.31,290.43 L392.63,290.82 L392.95,291.21 L393.27,291.60 L393.58,291.99 L393.90,292.38 L394.22,292.77 L394.54,293.16 L394.86,293.55 L395.18,293.94 L395.50,294.33 L395.82,294.72 L396.14,295.11 L396.45,295.50 L396.77,295.89 L397.09,296.27 L397.41,296.66 L397.73,297.05 L398.05,297.43 L398.37,297.81 L398.69,298.20 L399.01,298.58 L399.32,298.96 L399.64,299.34 L399.96,299.71 L400.28,300.09 L400.60,300.46 L400.92,300.83 L401.24,301.20 L401.56,301.57 L401.88,301.94 L402.20,302.30 L402.51,302.66 L402.83,303.02 L403.15,303.38 L403.47,303.73 L403.79,304.08 L404.11,304.43 L404.43,304.78 L404.75,305.12 L405.07,305.46 L405.38,305.80 L405.70,306.14 L406.02,306.47 L406.34,306.80 L406.66,307.12 L406.98,307.44 L407.30,307.76 L407.62,308.08 L407.94,308.39 L408.25,308.69 L408.57,309.00 L408.89,309.29 L409.21,309.59 L409.53,309.88 L409.85,310.17 L410.17,310.45 L410.49,310.73 L410.81,311.01 L411.12,311.28 L411.44,311.55 L411.76,311.82 L412.08,312.09 L412.40,312.36 L412.72,312.62 L413.04,312.88 L413.36,313.14 L413.68,313.40 L413.99,313.66 L414.31,313.91 L414.63,314.16 L414.95,314.41 L415.27,314.66 L415.59,314.91 L415.91,315.15 L416.23,315.39 L416.55,315.64 L416.86,315.87 L417.18,316.11 L417.50,316.35 L417.82,316.58 L418.14,316.82 L418.46,317.05 L418.78,317.28 L419.10,317.51 L419.42,317.74 L419.74,317.96 L420.05,318.19 L420.37,318.41 L420.69,318.64 L421.01,318.86 L421.33,319.08 L421.65,319.30 L421.97,319.52 L422.29,319.74 L422.61,319.95 L422.92,320.17 L423.24,320.38 L423.56,320.60 L423.88,320.81 L424.20,321.03 L424.52,321.24 L424.84,321.45 L425.16,321.66 L425.48,321.87 L425.79,322.08 L426.11,322.29 L426.43,322.50 L426.75,322.71 L427.07,322.91 L427.39,323.12 L427.71,323.33 L428.03,323.54 L428.35,323.74 L428.66,323.95 L428.98,324.16 L429.30,324.36 L429.62,324.57 L429.94,324.78 L430.26,324.98 L430.58,325.19 L430.90,325.40 L431.22,325.60 L431.53,325.81 L431.85,326.02 L432.17,326.22 L432.49,326.43 L432.81,326.64 L433.13,326.85 L433.45,327.06 L433.77,327.27 L434.09,327.48 L434.41,327.69 L434.72,327.90 L435.04,328.11 L435.36,328.32 L435.68,328.53 L436.00,328.75 L436.32,328.96 L436.64,329.18 L436.96,329.39 L437.28,329.61 L437.59,329.83 L437.91,330.04 L438.23,330.26 L438.55,330.48 L438.87,330.71 L439.19,330.93 L439.51,331.15 L439.83,331.38 L440.15,331.60 L440.46,331.83 L440.78,332.06 L441.10,332.29 L441.42,332.52 L441.74,332.75 L442.06,332.98 L442.38,333.21 L442.70,333.44 L443.02,333.67 L443.33,333.90 L443.65,334.14 L443.97,334.37 L444.29,334.61 L444.61,334.84 L444.93,335.08 L445.25,335.31 L445.57,335.55 L445.89,335.78 L446.20,336.02 L446.52,336.26 L446.84,336.49 L447.16,336.73 L447.48,336.97 L447.80,337.21 L448.12,337.44 L448.44,337.68 L448.76,337.92 L449.07,338.16 L449.39,338.40 L449.71,338.63 L450.03,338.87 L450.35,339.11 L450.67,339.35 L450.99,339.59 L451.31,339.82 L451.63,340.06 L451.95,340.30 L452.26,340.54 L452.58,340.77 L452.90,341.01 L453.22,341.25 L453.54,341.48 L453.86,341.72 L454.18,341.96 L454.50,342.19 L454.82,342.43 L455.13,342.66 L455.45,342.89 L455.77,343.13 L456.09,343.36 L456.41,343.59 L456.73,343.83 L457.05,344.06 L457.37,344.29 L457.69,344.52 L458.00,344.75 L458.32,344.98 L458.64,345.21 L458.96,345.43 L459.28,345.66 L459.60,345.89 L459.92,346.11 L460.24,346.34 L460.56,346.56 L460.87,346.78 L461.19,347.00 L461.51,347.23 L461.83,347.45 L462.15,347.66 L462.47,347.88 L462.79,348.10 L463.11,348.32 L463.43,348.53 L463.74,348.74 L464.06,348.96 L464.38,349.17 L464.70,349.38 L465.02,349.59 L465.34,349.80 L465.66,350.00 L465.98,350.21 L466.30,350.41 L466.61,350.61 L466.93,350.81 L467.25,351.01 L467.57,351.21 L467.89,351.41 L468.21,351.61 L468.53,351.80 L468.85,351.99 L469.17,352.19 L469.49,352.38 L469.80,352.58 L470.12,352.77 L470.44,352.96 L470.76,353.15 L471.08,353.34 L471.40,353.54 L471.72,353.73 L472.04,353.92 L472.36,354.11 L472.67,354.30 L472.99,354.49 L473.31,354.68 L473.63,354.86 L473.95,355.05 L474.27,355.24 L474.59,355.43 L474.91,355.61 L475.23,355.80 L475.54,355.98 L475.86,356.17 L476.18,356.35 L476.50,356.54 L476.82,356.72 L477.14,356.91 L477.46,357.09 L477.78,357.27 L478.10,357.45 L478.41,357.63 L478.73,357.81 L479.05,357.99 L479.37,358.17 L479.69,358.35 L480.01,358.53 L480.33,358.71 L480.65,358.89 L480.97,359.06 L481.28,359.24 L481.60,359.41 L481.92,359.59 L482.24,359.76 L482.56,359.94 L482.88,360.11 L483.20,360.28 L483.52,360.46 L483.84,360.63 L484.15,360.80 L484.47,360.97 L484.79,361.14 L485.11,361.31 L485.43,361.47 L485.75,361.64 L486.07,361.81 L486.39,361.97 L486.71,362.14 L487.03,362.30 L487.34,362.47 L487.66,362.63 L487.98,362.79 L488.30,362.96 L488.62,363.12 L488.94,363.28 L489.26,363.44 L489.58,363.60 L489.90,363.76 L490.21,363.91 L490.53,364.07 L490.85,364.23 L491.17,364.38 L491.49,364.54 L491.81,364.69 L492.13,364.84 L492.45,365.00 L492.77,365.15 L493.08,365.30 L493.40,365.45 L493.72,365.60 L494.04,365.74 L494.36,365.89 L494.68,366.04 L495.00,366.18 L495.32,366.33 L495.64,366.47 L495.95,366.62 L496.27,366.76 L496.59,366.90 L496.91,367.04 L497.23,367.18 L497.55,367.32 L497.87,367.46 L498.19,367.59 L498.51,367.73 L498.82,367.86 L499.14,367.99 L499.46,368.12 L499.78,368.25 L500.10,368.38 L500.42,368.50 L500.74,368.62 L501.06,368.74 L501.38,368.86 L501.69,368.98 L502.01,369.10 L502.33,369.22 L502.65,369.33 L502.97,369.45 L503.29,369.56 L503.61,369.67 L503.93,369.79 L504.25,369.90 L504.57,370.01 L504.88,370.12 L505.20,370.24 L505.52,370.35 L505.84,370.46 L506.16,370.58 L506.48,370.69 L506.80,370.81 L507.12,370.92 L507.44,371.04 L507.75,371.16 L508.07,371.27 L508.39,371.39 L508.71,371.51 L509.03,371.64 L509.35,371.76 L509.67,371.89 L509.99,372.01 L510.31,372.14 L510.62,372.27 L510.94,372.40 L511.26,372.53 L511.58,372.66 L511.90,372.79 L512.22,372.92 L512.54,373.05 L512.86,373.18 L513.18,373.32 L513.49,373.45 L513.81,373.58 L514.13,373.72 L514.45,373.85 L514.77,373.99 L515.09,374.12 L515.41,374.26 L515.73,374.39 L516.05,374.53 L516.36,374.67 L516.68,374.81 L517.00,374.94 L517.32,375.08 L517.64,375.22 L517.96,375.36 L518.28,375.50 L518.60,375.64 L518.92,375.78 L519.24,375.92 L519.55,376.06 L519.87,376.20 L520.19,376.34 L520.51,376.49 L520.83,376.63 L521.15,376.77 L521.47,376.91 L521.79,377.06 L522.11,377.20 L522.42,377.34 L522.74,377.49 L523.06,377.63 L523.38,377.78 L523.70,377.92 L524.02,378.06 L524.34,378.21 L524.66,378.36 L524.98,378.50 L525.29,378.65 L525.61,378.79 L525.93,378.94 L526.25,379.08 L526.57,379.23 L526.89,379.38 L527.21,379.52 L527.53,379.67 L527.85,379.82 L528.16,379.96 L528.48,380.11 L528.80,380.26 L529.12,380.40 L529.44,380.55 L529.76,380.70 L530.08,380.84 L530.40,380.99 L530.72,381.14 L531.03,381.29 L531.35,381.43 L531.67,381.58 L531.99,381.73 L532.31,381.88 L532.63,382.02 L532.95,382.17 L533.27,382.32 L533.59,382.46 L533.90,382.61 L534.22,382.76 L534.54,382.91 L534.86,383.05 L535.18,383.20 L535.50,383.35 L535.82,383.49 L536.14,383.64 L536.46,383.79 L536.78,383.93 L537.09,384.08 L537.41,384.22 L537.73,384.37 L538.05,384.52 L538.37,384.66 L538.69,384.81 L539.01,384.95 L539.33,385.10 L539.65,385.24 L539.96,385.39 L540.28,385.53 L540.60,385.67 L540.92,385.82 L541.24,385.96 L541.56,386.11 L541.88,386.25 L542.20,386.39 L542.52,386.53 L542.83,386.68 L543.15,386.82 L543.47,386.96 L543.79,387.10 L544.11,387.24 L544.43,387.38 L544.75,387.52 L545.07,387.66 L545.39,387.80 L545.70,387.94 L546.02,388.08 L546.34,388.22 L546.66,388.36 L546.98,388.49 L547.30,388.63 L547.62,388.77 L547.94,388.90 L548.26,389.04 L548.57,389.18 L548.89,389.31 L549.21,389.45 L549.53,389.58 L549.85,389.71 L550.17,389.85 L550.49,389.98 L550.81,390.11 L551.13,390.24 L551.44,390.37 L551.76,390.50 L552.08,390.63 L552.40,390.76 L552.72,390.89 L553.04,391.02 L553.36,391.15 L553.68,391.27 L554.00,391.40 L554.32,391.53 L554.63,391.65 L554.95,391.78 L555.27,391.90 L555.59,392.02 L555.91,392.15 L556.23,392.27 L556.55,392.39 L556.87,392.51 L557.19,392.63 L557.50,392.75 L557.82,392.87 L558.14,392.99 L558.46,393.11 L558.78,393.23 L559.10,393.35 L559.42,393.46 L559.74,393.58 L560.06,393.70 L560.37,393.81 L560.69,393.93 L561.01,394.04 L561.33,394.16 L561.65,394.27 L561.97,394.39 L562.29,394.50 L562.61,394.62 L562.93,394.73 L563.24,394.84 L563.56,394.95 L563.88,395.07 L564.20,395.18 L564.52,395.29 L564.84,395.40 L565.16,395.51 L565.48,395.62 L565.80,395.74 L566.11,395.85 L566.43,395.96 L566.75,396.07 L567.07,396.18 L567.39,396.29 L567.71,396.40 L568.03,396.51 L568.35,396.62 L568.67,396.73 L568.98,396.84 L569.30,396.95 L569.62,397.06 L569.94,397.16 L570.26,397.27 L570.58,397.38 L570.90,397.49 L571.22,397.60 L571.54,397.71 L571.86,397.82 L572.17,397.93 L572.49,398.04 L572.81,398.15 L573.13,398.26 L573.45,398.37 L573.77,398.48 L574.09,398.59 L574.41,398.70 L574.73,398.81 L575.04,398.92 L575.36,399.03 L575.68,399.14 L576.00,399.25 L576.32,399.36 L576.64,399.47 L576.96,399.58 L577.28,399.69 L577.60,399.81 L577.91,399.92 L578.23,400.03 L578.55,400.14 L578.87,400.26 L579.19,400.37 L579.51,400.48 L579.83,400.60 L580.15,400.71 L580.47,400.83 L580.78,400.94 L581.10,401.06 L581.42,401.17 L581.74,401.29 L582.06,401.41 L582.38,401.52 L582.70,401.64 L583.02,401.76 L583.34,401.88 L583.65,401.99 L583.97,402.11 L584.29,402.23 L584.61,402.35 L584.93,402.47 L585.25,402.60 L585.57,402.72 L585.89,402.84 L586.21,402.96 L586.53,403.09 L586.84,403.21 L587.16,403.34 L587.48,403.46 L587.80,403.58 L588.12,403.71 L588.44,403.83 L588.76,403.96 L589.08,404.09 L589.40,404.21 L589.71,404.34 L590.03,404.47 L590.35,404.59 L590.67,404.72 L590.99,404.85 L591.31,404.97 L591.63,405.10 L591.95,405.23 L592.27,405.36 L592.58,405.49 L592.90,405.62 L593.22,405.75 L593.54,405.88 L593.86,406.01 L594.18,406.14 L594.50,406.27 L594.82,406.40 L595.14,406.53 L595.45,406.66 L595.77,406.79 L596.09,406.92 L596.41,407.05 L596.73,407.19 L597.05,407.32 L597.37,407.45 L597.69,407.58 L598.01,407.72 L598.32,407.85 L598.64,407.98 L598.96,408.12 L599.28,408.25 L599.60,408.39 L599.92,408.52 L600.24,408.65 L600.56,408.79 L600.88,408.92 L601.19,409.06 L601.51,409.20 L601.83,409.33 L602.15,409.47 L602.47,409.60 L602.79,409.74 L603.11,409.88 L603.43,410.01 L603.75,410.15 L604.07,410.29 L604.38,410.43 L604.70,410.56 L605.02,410.70 L605.34,410.84 L605.66,410.98 L605.98,411.12 L606.30,411.25 L606.62,411.39 L606.94,411.53 L607.25,411.67 L607.57,411.81 L607.89,411.95 L608.21,412.09 L608.53,412.23 L608.85,412.37 L609.17,412.51 L609.49,412.65 L609.81,412.79 L610.12,412.93 L610.44,413.08 L610.76,413.22 L611.08,413.36 L611.40,413.50"/>
<path class="tr2" d="M267.50,44.00 L267.79,44.01 L268.08,44.02 L268.38,44.04 L268.67,44.05 L268.96,44.07 L269.25,44.09 L269.54,44.11 L269.84,44.13 L270.13,44.15 L270.42,44.17 L270.71,44.19 L271.00,44.22 L271.30,44.24 L271.59,44.26 L271.88,44.29 L272.17,44.32 L272.46,44.34 L272.76,44.37 L273.05,44.41 L273.34,44.44 L273.63,44.48 L273.92,44.52 L274.22,44.55 L274.51,44.59 L274.80,44.63 L275.09,44.67 L275.38,44.71 L275.67,44.76 L275.97,44.80 L276.26,44.84 L276.55,44.88 L276.84,44.93 L277.13,44.98 L277.43,45.04 L277.72,45.09 L278.01,45.14 L278.30,45.19 L278.59,45.24 L278.89,45.29 L279.18,45.33 L279.47,45.36 L279.76,45.38 L280.05,45.40 L280.35,45.42 L280.64,45.43 L280.93,45.45 L281.22,45.46 L281.51,45.47 L281.81,45.48 L282.10,45.49 L282.39,45.49 L282.68,45.50 L282.97,45.50 L283.27,45.50 L283.56,45.50 L283.85,45.50 L284.14,45.50 L284.43,45.50 L284.73,45.50 L285.02,45.50 L285.31,45.50 L285.60,45.50 L285.89,45.50 L286.19,45.50 L286.48,45.50 L286.77,45.50 L287.06,45.50 L287.35,45.50 L287.65,45.50 L287.94,45.50 L288.23,45.50 L288.52,45.50 L288.81,45.50 L289.11,45.50 L289.40,45.50 L289.69,45.50 L289.98,45.50 L290.27,45.50 L290.56,45.50 L290.86,45.50 L291.15,45.50 L291.44,45.50 L291.73,45.50 L292.02,45.50 L292.32,45.50 L292.61,45.50 L292.90,45.50 L293.19,45.51 L293.48,45.51 L293.78,45.51 L294.07,45.52 L294.36,45.52 L294.65,45.53 L294.94,45.53 L295.24,45.54 L295.53,45.55 L295.82,45.55 L296.11,45.56 L296.40,45.57 L296.70,45.58 L296.99,45.59 L297.28,45.60 L297.57,45.61 L297.86,45.63 L298.16,45.64 L298.45,45.65 L298.74,45.66 L299.03,45.68 L299.32,45.69 L299.62,45.71 L299.91,45.73 L300.20,45.76 L300.49,45.80 L300.78,45.85 L301.08,45.91 L301.37,45.97 L301.66,46.04 L301.95,46.11 L302.24,46.18 L302.54,46.26 L302.83,46.33 L303.12,46.41 L303.41,46.49 L303.70,46.57 L303.99,46.65 L304.29,46.72 L304.58,46.80 L304.87,46.87 L305.16,46.95 L305.45,47.03 L305.75,47.12 L306.04,47.21 L306.33,47.30 L306.62,47.39 L306.91,47.49 L307.21,47.59 L307.50,47.70 L307.79,47.81 L308.08,47.93 L308.37,48.06 L308.67,48.19 L308.96,48.33 L309.25,48.47 L309.54,48.63 L309.83,48.79 L310.13,48.95 L310.42,49.13 L310.71,49.31 L311.00,49.50 L311.29,49.70 L311.59,49.92 L311.88,50.16 L312.17,50.40 L312.46,50.67 L312.75,50.95 L313.05,51.25 L313.34,51.58 L313.63,51.95 L313.92,52.34 L314.21,52.76 L314.51,53.20 L314.80,53.64 L315.09,54.09 L315.38,54.57 L315.67,55.07 L315.97,55.58 L316.26,56.10 L316.55,56.63 L316.84,57.16 L317.13,57.68 L317.43,58.20 L317.72,58.73 L318.01,59.25 L318.30,59.78 L318.59,60.32 L318.88,60.86 L319.18,61.40 L319.47,61.94 L319.76,62.49 L320.05,63.05 L320.34,63.61 L320.64,64.17 L320.93,64.74 L321.22,65.30 L321.51,65.87 L321.80,66.43 L322.10,66.98 L322.39,67.55 L322.68,68.11 L322.97,68.68 L323.26,69.25 L323.56,69.81 L323.85,70.35 L324.14,70.88 L324.43,71.39 L324.72,71.87 L325.02,72.33 L325.31,72.77 L325.60,73.20"/>
<path class="tr2" d="M325.60,73.20 L325.81,73.16 L326.03,73.07 L326.24,72.94 L326.45,72.79 L326.67,72.61 L326.88,72.41 L327.09,72.21 L327.30,71.93 L327.52,71.58 L327.73,71.17 L327.94,70.71 L328.16,70.21 L328.37,69.69 L328.58,69.16 L328.80,68.62 L329.01,68.09 L329.22,67.58 L329.44,67.09 L329.65,66.60 L329.86,66.09 L330.07,65.58 L330.29,65.07 L330.50,64.54 L330.71,64.02 L330.93,63.49 L331.14,62.95 L331.35,62.42 L331.57,61.89 L331.78,61.34 L331.99,60.78 L332.21,60.21 L332.42,59.62 L332.63,59.03 L332.84,58.45 L333.06,57.88 L333.27,57.32 L333.48,56.78 L333.70,56.27 L333.91,55.79 L334.12,55.35 L334.34,54.91 L334.55,54.49 L334.76,54.08 L334.97,53.68 L335.19,53.30 L335.40,52.93 L335.61,52.59 L335.83,52.26 L336.04,51.95 L336.25,51.66 L336.47,51.39 L336.68,51.14 L336.89,50.89 L337.11,50.66 L337.32,50.44 L337.53,50.23 L337.74,50.02 L337.96,49.83 L338.17,49.65 L338.38,49.47 L338.60,49.30 L338.81,49.14 L339.02,48.98 L339.24,48.83 L339.45,48.69 L339.66,48.55 L339.88,48.41 L340.09,48.28 L340.30,48.16 L340.51,48.03 L340.73,47.91 L340.94,47.80 L341.15,47.68 L341.37,47.57 L341.58,47.46 L341.79,47.35 L342.01,47.23 L342.22,47.12 L342.43,47.01 L342.65,46.90 L342.86,46.80 L343.07,46.70 L343.28,46.61 L343.50,46.52 L343.71,46.44 L343.92,46.37 L344.14,46.31 L344.35,46.27 L344.56,46.22 L344.78,46.17 L344.99,46.13 L345.20,46.08 L345.42,46.04 L345.63,45.99 L345.84,45.95 L346.05,45.91 L346.27,45.87 L346.48,45.83 L346.69,45.80 L346.91,45.76 L347.12,45.73 L347.33,45.70 L347.55,45.67 L347.76,45.64 L347.97,45.61 L348.18,45.59 L348.40,45.57 L348.61,45.55 L348.82,45.54 L349.04,45.52 L349.25,45.51 L349.46,45.51 L349.68,45.50 L349.89,45.50 L350.10,45.50 L350.32,45.50 L350.53,45.50 L350.74,45.50 L350.95,45.50 L351.17,45.50 L351.38,45.50 L351.59,45.50 L351.81,45.50 L352.02,45.50 L352.23,45.50 L352.45,45.50 L352.66,45.50 L352.87,45.50 L353.09,45.50 L353.30,45.50 L353.51,45.50 L353.72,45.50 L353.94,45.50 L354.15,45.50 L354.36,45.50 L354.58,45.50 L354.79,45.50 L355.00,45.50 L355.22,45.50 L355.43,45.50 L355.64,45.50 L355.86,45.50 L356.07,45.50 L356.28,45.50 L356.49,45.50 L356.71,45.50 L356.92,45.50 L357.13,45.50 L357.35,45.50 L357.56,45.50 L357.77,45.50 L357.99,45.50 L358.20,45.50 L358.41,45.50 L358.63,45.50 L358.84,45.50 L359.05,45.50 L359.26,45.50 L359.48,45.50 L359.69,45.50 L359.90,45.50 L360.12,45.50 L360.33,45.50 L360.54,45.50 L360.76,45.50 L360.97,45.50 L361.18,45.50 L361.39,45.50 L361.61,45.50 L361.82,45.50 L362.03,45.50 L362.25,45.50 L362.46,45.50 L362.67,45.50 L362.89,45.50 L363.10,45.50 L363.31,45.50 L363.53,45.50 L363.74,45.50 L363.95,45.50 L364.16,45.50 L364.38,45.50 L364.59,45.50 L364.80,45.46 L365.02,45.38 L365.23,45.28 L365.44,45.16 L365.66,45.02 L365.87,44.88 L366.08,44.74 L366.30,44.61 L366.51,44.50 L366.72,44.39 L366.93,44.29 L367.15,44.19 L367.36,44.09 L367.57,43.99 L367.79,43.90 L368.00,43.80"/>
<polygon class="o" points="283.6,45.5 278.0,61 289.20000000000005,61"/>
<polygon class="o" points="316.6,56 310.5,73.3 322.70000000000005,73.3"/>
<polygon class="o" points="334.6,54.5 328.6,69.4 340.6,69.4"/>
<polygon class="o" points="333.5,56.5 328.1,73 338.9,73"/>
<polygon class="o" points="325.5,73.7 320.1,91 330.9,91"/>
<polygon class="o" points="498,43 492,27.5 504,27.5"/>
<polygon class="o" points="325,133 319.3,116.5 330.7,116.5"/>
<polygon class="o" points="325,133 319.7,149.5 330.3,149.5"/>
<polygon class="o" points="316.5,157 310.5,174.6 322.5,174.6"/>
<polygon class="o" points="333,158 327.5,174.6 338.5,174.6"/>
</svg>
</body></html>
